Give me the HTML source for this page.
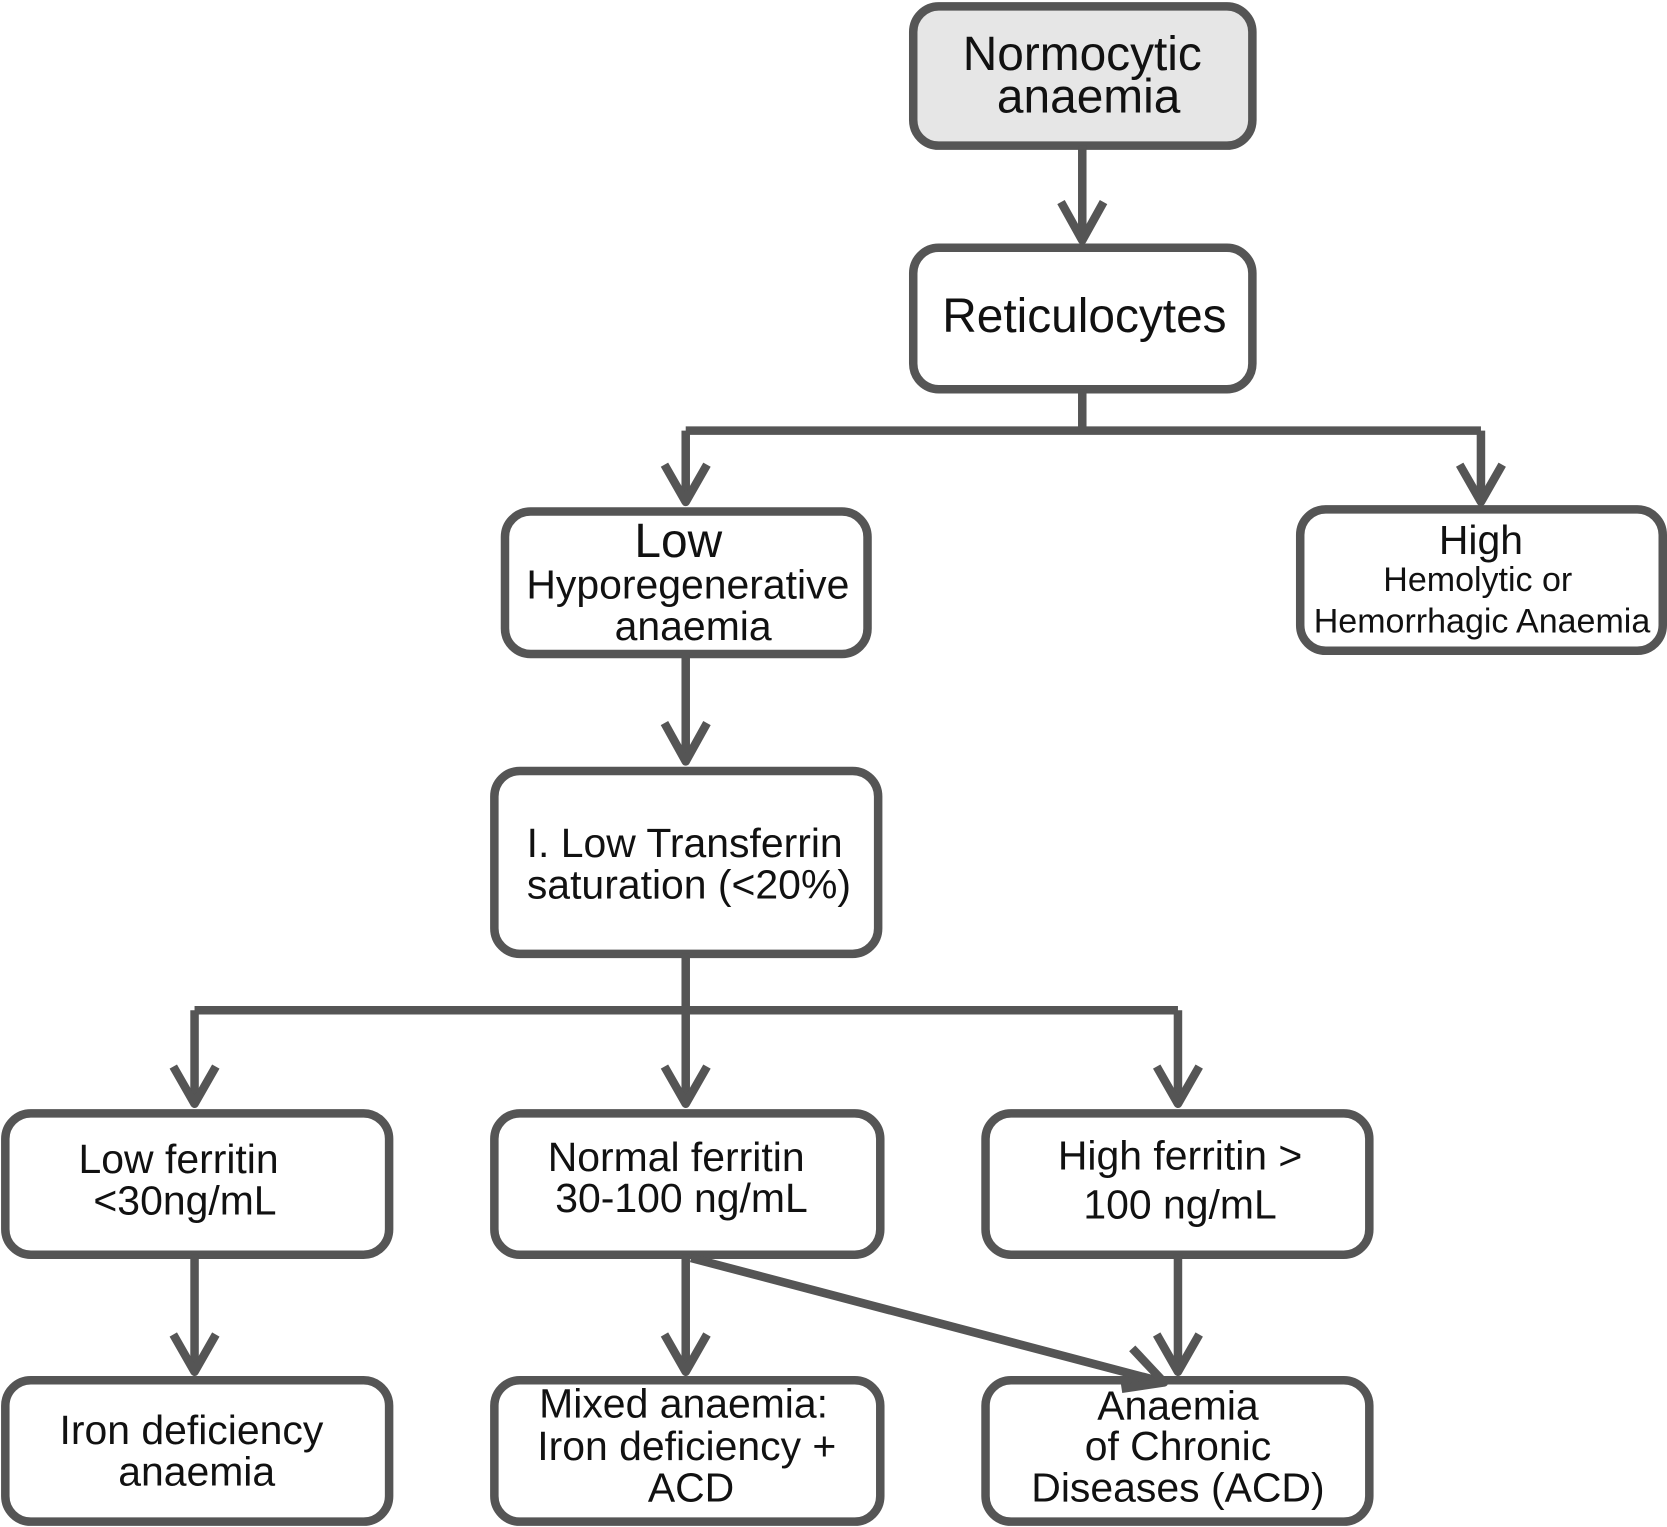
<!DOCTYPE html>
<html><head><meta charset="utf-8"><style>
html,body{margin:0;padding:0;background:#fff;}
svg{display:block;}
text{font-family:"Liberation Sans",Arial,sans-serif;fill:#111;text-anchor:middle;}
</style></head><body>
<svg width="1667" height="1527" viewBox="0 0 1568 1436" preserveAspectRatio="none">
<g fill="#fff" stroke="#555" stroke-width="8">
<rect x="859" y="6" width="319" height="131" rx="24" fill="#e6e6e6"/>
<rect x="859" y="233" width="319" height="133" rx="24"/>
<rect x="475" y="481" width="341" height="134" rx="24"/>
<rect x="1223" y="479" width="341" height="133" rx="24"/>
<rect x="465" y="725" width="361" height="172" rx="24"/>
<rect x="5" y="1047" width="361" height="133" rx="24"/>
<rect x="465" y="1047" width="363" height="133" rx="24"/>
<rect x="927" y="1047" width="361" height="133" rx="24"/>
<rect x="5" y="1298" width="361" height="133" rx="24"/>
<rect x="465" y="1298" width="363" height="133" rx="24"/>
<rect x="927" y="1298" width="361" height="133" rx="24"/>
</g>
<g fill="none" stroke="#555" stroke-width="8" stroke-linejoin="round">
<path d="M1018 137V226"/><path d="M998 190L1018 226L1038 190"/>
<path d="M1018 366V405M645 405H1393M645 405V472M1393 405V472"/>
<path d="M625 437L645 472L665 437M1373 437L1393 472L1413 437"/>
<path d="M645 615V716"/><path d="M625 680L645 716L665 680"/>
<path d="M645 897V950M183 950H1108M183 950V1038M645 950V1038M1108 950V1038"/>
<path d="M163 1003L183 1038L203 1003M625 1003L645 1038L665 1003M1088 1003L1108 1038L1128 1003"/>
<path d="M183 1180V1290M645 1180V1290M1108 1180V1290"/>
<path d="M163 1255L183 1290L203 1255M625 1255L645 1290L665 1255M1088 1255L1108 1290L1128 1255"/>
<path d="M650 1183L1095 1300"/><path d="M1065 1268L1095 1300L1055 1306"/>
</g>
<text x="1018" y="66" font-size="45">Normocytic</text>
<text x="1024" y="106" font-size="45">anaemia</text>
<text x="1020" y="312" font-size="45">Reticulocytes</text>
<text x="638" y="524" font-size="45">Low</text>
<text x="647" y="563" font-size="38.5">Hyporegenerative</text>
<text x="652" y="602" font-size="38.5">anaemia</text>
<text x="1393" y="521" font-size="38.5">High</text>
<text x="1390" y="556" font-size="32">Hemolytic or</text>
<text x="1394" y="595" font-size="32">Hemorrhagic Anaemia</text>
<text x="644" y="806" font-size="38.5">I. Low Transferrin</text>
<text x="648" y="845" font-size="38.5">saturation (&lt;20%)</text>
<text x="168" y="1103" font-size="38.5">Low ferritin</text>
<text x="174" y="1142" font-size="38.5">&lt;30ng/mL</text>
<text x="636" y="1101" font-size="38.5">Normal ferritin</text>
<text x="641" y="1140" font-size="38.5">30-100 ng/mL</text>
<text x="1110" y="1100" font-size="38.5">High ferritin &gt;</text>
<text x="1110" y="1146" font-size="38.5">100 ng/mL</text>
<text x="180" y="1358" font-size="38.5">Iron deficiency</text>
<text x="185" y="1397" font-size="38.5">anaemia</text>
<text x="643" y="1333" font-size="38.5">Mixed anaemia:</text>
<text x="646" y="1373" font-size="38.5">Iron deficiency +</text>
<text x="650" y="1412" font-size="38.5">ACD</text>
<text x="1108" y="1335" font-size="38.5">Anaemia</text>
<text x="1108" y="1373" font-size="38.5">of Chronic</text>
<text x="1108" y="1412" font-size="38.5">Diseases (ACD)</text>
</svg>
</body></html>
